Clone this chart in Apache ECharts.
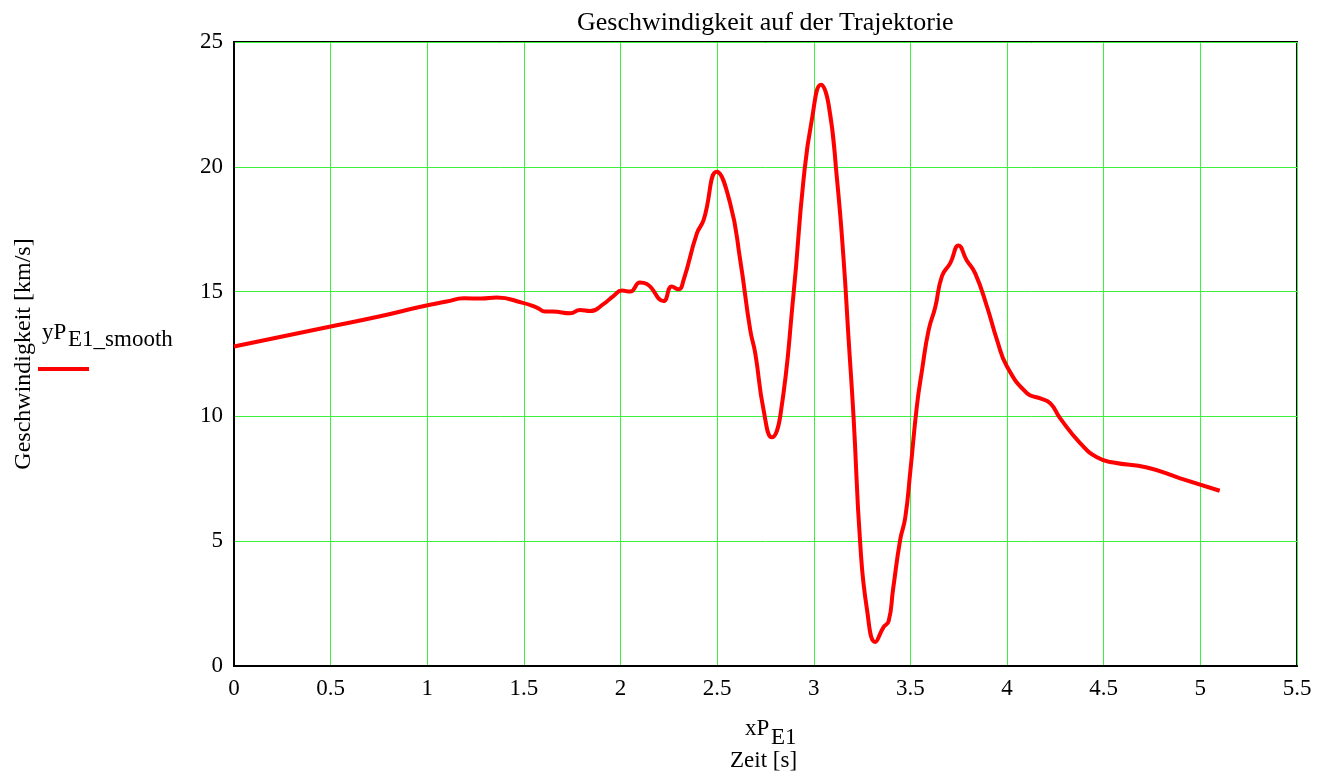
<!DOCTYPE html>
<html><head><meta charset="utf-8">
<script src="https://cdn.jsdelivr.net/npm/echarts@6/dist/echarts.min.js"></script>
<style>html,body{margin:0;padding:0;background:#fff}#c{width:1332px;height:780px}</style>
</head><body><div id="c"></div>
<script>
const timeS = [0, 0.25, 0.5, 0.75, 0.96, 1.1, 1.19, 1.28, 1.36, 1.49, 1.567, 1.61, 1.65, 1.74, 1.79, 1.843, 1.911, 1.963, 2.007, 2.05, 2.10, 2.136, 2.222, 2.265, 2.30, 2.326, 2.395, 2.43, 2.498, 2.567, 2.619, 2.671, 2.697, 2.74, 2.783, 2.826, 2.895, 2.947, 2.99, 3.037, 3.076, 3.12, 3.154, 3.18, 3.206, 3.24, 3.275, 3.318, 3.36, 3.387, 3.41, 3.447, 3.473, 3.5, 3.533, 3.56, 3.594, 3.628, 3.663, 3.706, 3.749, 3.79, 3.835, 3.896, 3.948, 4.0, 4.103, 4.172, 4.224, 4.275, 4.379, 4.465, 4.551, 4.724, 4.896, 5.10];
const speed = [12.8, 13.2, 13.6, 14.0, 14.38, 14.6, 14.73, 14.72, 14.76, 14.56, 14.36, 14.2, 14.2, 14.13, 14.26, 14.22, 14.5, 14.82, 15.04, 15.0, 15.36, 15.3, 14.62, 15.2, 15.09, 15.46, 17.33, 17.87, 19.8, 18.54, 16.27, 13.46, 12.53, 10.26, 9.16, 9.99, 14.9, 19.5, 21.9, 23.29, 22.52, 19.5, 16.3, 13.1, 9.92, 4.92, 2.27, 0.96, 1.55, 1.79, 3.07, 5.06, 5.94, 7.85, 10.4, 11.86, 13.46, 14.36, 15.62, 16.14, 16.85, 16.27, 15.73, 14.4, 13.06, 11.99, 10.93, 10.72, 10.52, 9.92, 8.92, 8.36, 8.15, 7.95, 7.52, 7.02];
const xTicks = ['0','0.5','1','1.5','2','2.5','3','3.5','4','4.5','5','5.5'];
const yTicks = ['0','5','10','15','20','25'];

const serif = '"Liberation Serif", "DejaVu Serif", serif';
const chart = echarts.init(document.getElementById('c'));
const pts = timeS.map((t, i) => [t, speed[i]]);
chart.setOption({
  animation: false,
  backgroundColor: '#fff',
  title: {
    text: 'Geschwindigkeit auf der Trajektorie',
    left: 572, top: 5,
    textStyle: { fontFamily: serif, fontSize: 26, fontWeight: 'normal', color: '#000' }
  },
  grid: { left: 234, right: 35, top: 42, bottom: 114, show: true, borderColor: '#000', borderWidth: 2, backgroundColor: 'transparent' },
  xAxis: {
    type: 'value', min: 0, max: 5.5, interval: 0.5,
    axisLine: { show: true, lineStyle: { color: '#000', width: 2 } },
    axisTick: { show: false },
    splitLine: { show: true, lineStyle: { color: '#3cf03c', width: 1 } },
    axisLabel: { margin: 11, fontFamily: serif, fontSize: 23, color: '#000',
      formatter: v => xTicks[Math.round(v / 0.5)] }
  },
  yAxis: {
    type: 'value', min: 0, max: 25, interval: 5,
    name: 'Geschwindigkeit [km/s]', nameLocation: 'middle', nameGap: 198,
    nameTextStyle: { fontFamily: serif, fontSize: 24, color: '#000' },
    axisLine: { show: true, lineStyle: { color: '#000', width: 2 } },
    axisTick: { show: false },
    splitLine: { show: true, lineStyle: { color: '#3cf03c', width: 1 } },
    axisLabel: { margin: 11, fontFamily: serif, fontSize: 23, color: '#000',
      formatter: v => yTicks[Math.round(v / 5)] }
  },
  series: [{
    name: 'yPE1_smooth', type: 'line', data: pts, smooth: 0.5, showSymbol: false,
    lineStyle: { color: '#ff0000', width: 4 }
  }],
  graphic: [
    { type: 'text', left: 42, top: 321, style: { text: 'yP', font: '23px ' + serif, fill: '#000' } },
    { type: 'text', left: 68, top: 328, style: { text: 'E1_smooth', font: '23px ' + serif, fill: '#000' } },
    { type: 'line', shape: { x1: 38, y1: 369, x2: 89, y2: 369 }, style: { stroke: '#ff0000', lineWidth: 4 } },
    { type: 'text', left: 745, top: 717, style: { text: 'xP', font: '23px ' + serif, fill: '#000' } },
    { type: 'text', left: 771, top: 726, style: { text: 'E1', font: '23px ' + serif, fill: '#000' } },
    { type: 'text', left: 730, top: 749, style: { text: 'Zeit [s]', font: '23px ' + serif, fill: '#000' } }
  ]
});
</script></body></html>
